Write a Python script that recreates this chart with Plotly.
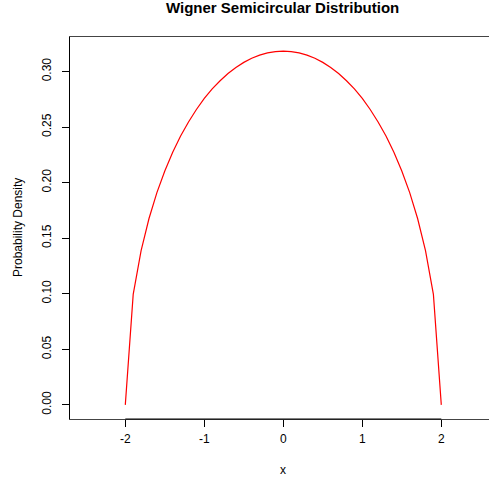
import plotly.graph_objects as go

x_vals = [-2.0, -1.9, -1.8, -1.7, -1.6, -1.5, -1.4, -1.3, -1.2, -1.1, -1.0,
          -0.9, -0.8, -0.7, -0.6, -0.5, -0.4, -0.3, -0.2, -0.1, 0.0,
          0.1, 0.2, 0.3, 0.4, 0.5, 0.6, 0.7, 0.8, 0.9, 1.0,
          1.1, 1.2, 1.3, 1.4, 1.5, 1.6, 1.7, 1.8, 1.9, 2.0]
half = [0.0000, 0.0994, 0.1387, 0.1677, 0.1910, 0.2105, 0.2273, 0.2419, 0.2546, 0.2658, 0.2757,
        0.2843, 0.2917, 0.2982, 0.3036, 0.3082, 0.3119, 0.3147, 0.3167, 0.3179]
density = half + [0.3183] + half[::-1]

y_ticks = [0.00, 0.05, 0.10, 0.15, 0.20, 0.25, 0.30]
y_tick_labels = ["0.00", "0.05", "0.10", "0.15", "0.20", "0.25", "0.30"]
x_ticks = [-2, -1, 0, 1, 2]
x_tick_labels = ["-2", "-1", "0", "1", "2"]

W, H = 489, 481
L, T, B = 70, 37, 62
unit = 79.0
x_left = -2.7
x_right = x_left + (W - L) / unit

FAM = "Liberation Sans, Arial, Helvetica, sans-serif"
font = dict(family=FAM, size=12, color="black")

fig = go.Figure()
fig.add_trace(go.Scatter(x=x_vals, y=density, mode="lines",
                         line=dict(color="red", width=1.2), showlegend=False))

fig.update_layout(
    width=W, height=H,
    margin=dict(l=L, r=0, t=T, b=B, autoexpand=False),
    paper_bgcolor="white", plot_bgcolor="white",
    font=font,
    xaxis=dict(range=[x_left, x_right], tickvals=x_ticks, ticktext=x_tick_labels,
               showgrid=False, zeroline=False, showline=True, linecolor="#444444",
               linewidth=1, mirror=True, ticks="outside", ticklen=7, tickcolor="black",
               automargin=False, tickfont=font, ticklabelstandoff=2),
    yaxis=dict(range=[-0.01273, 0.33104], tickvals=y_ticks, ticktext=y_tick_labels,
               showgrid=False, zeroline=False, showline=True, linecolor="black",
               linewidth=1, ticks="outside", ticklen=7, tickcolor="black",
               tickangle=-90, automargin=False, tickfont=font, ticklabelstandoff=6),
)

fig.add_shape(type="line", xref="x", yref="paper", x0=-2, x1=2, y0=0, y1=0,
              line=dict(color="black", width=1))

fig.add_annotation(text="<b>Wigner Semicircular Distribution</b>", xref="paper", yref="paper",
                   x=(282 - L) / (W - L), y=1 + (T - 8) / (H - T - B),
                   xanchor="center", yanchor="middle", showarrow=False,
                   font=dict(family=FAM, size=15, color="black"))
fig.add_annotation(text="x", xref="paper", yref="paper",
                   x=(283 - L) / (W - L), y=-(470 - (H - B)) / (H - T - B),
                   xanchor="center", yanchor="middle", showarrow=False, font=font)
fig.add_annotation(text="Probability Density", xref="paper", yref="paper",
                   x=-(L - 18) / (W - L), y=(H - B - 228) / (H - T - B),
                   xanchor="center", yanchor="middle", textangle=-90,
                   showarrow=False, font=font)

fig.write_html("out.html", config={"displayModeBar": False},
               post_script="document.body.style.margin='0';document.body.style.overflow='hidden';")
